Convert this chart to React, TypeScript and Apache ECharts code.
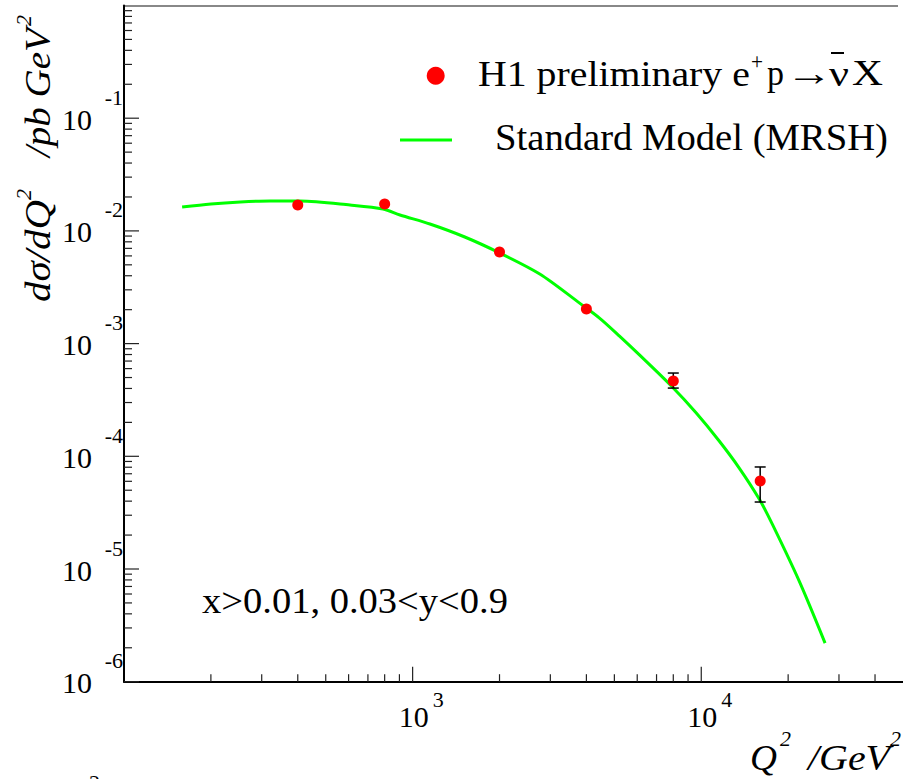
import React, { useEffect, useRef } from 'react';
import * as echarts from 'echarts';

const X_MIN = 100;
const X_MAX = 50000;
const Y_MIN = 1e-6;
const Y_MAX = 1;

// Standard Model (MRSH) curve
const smQ2 = [159, 200, 253, 321, 408, 607, 790, 904, 1148, 1516, 2003, 2757, 3789, 4441, 5210, 6107, 7940, 9610, 11540, 13540, 15880, 17610, 21830, 26850];
const smXsec = [0.01629, 0.01733, 0.01805, 0.01845, 0.01842, 0.01697, 0.01564, 0.01384, 0.01151, 0.008829, 0.00637, 0.004145, 0.002288, 0.001684, 0.001165, 7.93e-4, 4.12e-4, 2.42e-4, 1.367e-4, 7.87e-5, 4.18e-5, 2.51e-5, 7.83e-6, 2.2e-6];

// H1 preliminary data
const dataQ2 = [400, 800, 2000, 4000, 8000, 16000];
const dataXsec = [0.017, 0.0173, 0.0065, 0.00203, 4.66e-4, 6.04e-5];
const errLow: (number | null)[] = [null, null, null, null, 4.03e-4, 3.93e-5];
const errHigh: (number | null)[] = [null, null, null, null, 5.48e-4, 8.04e-5];

// axis ticks / labels
const yLabelExp = [-6, -5, -4, -3, -2, -1];
const xLabelExp = [3, 4];
const minorMult = [2, 3, 4, 5, 6, 7, 8, 9];
const xMinorExtra = [20000, 30000, 40000];

const FAMILY = 'Liberation Serif';

function measure(text: string, size: number, italic: boolean): number {
  const c = document.createElement('canvas');
  const ctx = c.getContext('2d');
  if (!ctx) return 1;
  ctx.font = `${italic ? 'italic ' : ''}${size}px "${FAMILY}"`;
  return ctx.measureText(text).width || 1;
}

function tStyle(text: string, size: number, italic = false, align = 'left') {
  return {
    text,
    fontSize: size,
    fontFamily: FAMILY,
    fontStyle: italic ? 'italic' : 'normal',
    fontWeight: 'normal',
    fill: '#000',
    align,
    verticalAlign: 'middle',
  };
}

function fitText(text: string, left: number, baseline: number, size: number, targetW: number | null, italic = false) {
  const sx = targetW ? targetW / measure(text, size, italic) : 1;
  return {
    type: 'text',
    x: left,
    y: baseline - 0.3375 * size,
    scaleX: sx,
    style: tStyle(text, size, italic, 'left'),
  };
}

export default function App() {
  const ref = useRef<HTMLDivElement>(null);

  useEffect(() => {
    if (!ref.current) return;
    const chart = echarts.init(ref.current, undefined, { renderer: 'svg' });

    const yTicks: number[][] = [];
    yLabelExp.forEach((e) => {
      yTicks.push([X_MIN, Math.pow(10, e), 1]);
      minorMult.forEach((k) => yTicks.push([X_MIN, k * Math.pow(10, e), 0]));
    });
    const xTicks: number[][] = [];
    xLabelExp.forEach((e) => {
      xTicks.push([Math.pow(10, e), Y_MIN, 1]);
      minorMult.forEach((k) => xTicks.push([k * Math.pow(10, e - 1), Y_MIN, 0]));
    });
    xMinorExtra.forEach((v) => xTicks.push([v, Y_MIN, 0]));

    const errData: number[][] = [];
    dataQ2.forEach((q, i) => {
      const lo = errLow[i];
      const hi = errHigh[i];
      if (lo != null && hi != null) errData.push([q, lo, hi]);
    });

    const tickStyle = { stroke: '#222', lineWidth: 1.2 };

    const option: any = {
      animation: false,
      backgroundColor: '#fff',
      grid: { left: 124, right: -2, top: 5.5, bottom: 97.3, containLabel: false },
      xAxis: {
        type: 'log',
        logBase: 10,
        min: X_MIN,
        max: X_MAX,
        axisLine: { show: true, lineStyle: { color: '#000', width: 2 } },
        axisTick: { show: false },
        axisLabel: { show: false },
        splitLine: { show: false },
      },
      yAxis: {
        type: 'log',
        logBase: 10,
        min: Y_MIN,
        max: Y_MAX,
        axisLine: { show: true, lineStyle: { color: '#000', width: 2 } },
        axisTick: { show: false },
        axisLabel: { show: false },
        splitLine: { show: false },
      },
      series: [
        {
          type: 'custom',
          name: 'yticks',
          silent: true,
          z: 3,
          data: yTicks,
          renderItem: (_p: any, api: any) => {
            const pt = api.coord([api.value(0), api.value(1)]);
            const len = api.value(2) ? 15 : 8;
            return { type: 'line', shape: { x1: pt[0], y1: pt[1], x2: pt[0] + len, y2: pt[1] }, style: tickStyle };
          },
        },
        {
          type: 'custom',
          name: 'xticks',
          silent: true,
          z: 3,
          data: xTicks,
          renderItem: (_p: any, api: any) => {
            const pt = api.coord([api.value(0), api.value(1)]);
            const len = api.value(2) ? 15 : 7.5;
            return { type: 'line', shape: { x1: pt[0], y1: pt[1], x2: pt[0], y2: pt[1] - len }, style: tickStyle };
          },
        },
        {
          type: 'custom',
          name: 'ylabels',
          silent: true,
          z: 3,
          data: yLabelExp.map((e) => [X_MIN, Math.pow(10, e), e]),
          renderItem: (_p: any, api: any) => {
            const pt = api.coord([api.value(0), api.value(1)]);
            return {
              type: 'group',
              children: [
                { type: 'text', x: pt[0] - 32, y: pt[1] + 1, style: tStyle('10', 30, false, 'right') },
                { type: 'text', x: pt[0] - 1, y: pt[1] - 21, style: tStyle(String(api.value(2)), 22, false, 'right') },
              ],
            };
          },
        },
        {
          type: 'custom',
          name: 'xlabels',
          silent: true,
          z: 3,
          data: xLabelExp.map((e) => [Math.pow(10, e), Y_MIN, e]),
          renderItem: (_p: any, api: any) => {
            const pt = api.coord([api.value(0), api.value(1)]);
            return {
              type: 'group',
              children: [
                { type: 'text', x: pt[0] + 1, y: pt[1] + 35, style: tStyle('10', 30, false, 'center') },
                { type: 'text', x: pt[0] + 20, y: pt[1] + 18, style: tStyle(String(api.value(2)), 22, false, 'left') },
              ],
            };
          },
        },
        {
          type: 'line',
          name: 'Standard Model (MRSH)',
          data: smQ2.map((q, i) => [q, smXsec[i]]),
          smooth: 0.3,
          showSymbol: false,
          symbol: 'none',
          z: 2,
          lineStyle: { color: '#00ff00', width: 3 },
        },
        {
          type: 'custom',
          name: 'errors',
          silent: true,
          z: 4,
          data: errData,
          renderItem: (_p: any, api: any) => {
            const x = api.value(0);
            const lo = api.coord([x, api.value(1)]);
            const hi = api.coord([x, api.value(2)]);
            const w = 5.5;
            const st = { stroke: '#000', lineWidth: 1.5 };
            return {
              type: 'group',
              children: [
                { type: 'line', shape: { x1: lo[0], y1: lo[1], x2: hi[0], y2: hi[1] }, style: st },
                { type: 'line', shape: { x1: lo[0] - w, y1: lo[1], x2: lo[0] + w, y2: lo[1] }, style: st },
                { type: 'line', shape: { x1: hi[0] - w, y1: hi[1], x2: hi[0] + w, y2: hi[1] }, style: st },
              ],
            };
          },
        },
        {
          type: 'scatter',
          name: 'H1 preliminary',
          data: dataQ2.map((q, i) => [q, dataXsec[i]]),
          symbol: 'circle',
          symbolSize: 11,
          z: 5,
          itemStyle: { color: '#ff0000', opacity: 1 },
        },
      ],
      graphic: [
        // top frame line
        { type: 'line', shape: { x1: 124, y1: 6, x2: 898, y2: 6 }, style: { stroke: '#888', lineWidth: 2 } },
        // legend
        { type: 'circle', shape: { cx: 435.7, cy: 75.7, r: 9 }, style: { fill: '#ff0000' } },
        fitText('H1 preliminary e', 478, 85.7, 36, 272),
        fitText('+', 751, 69, 24, 12),
        fitText('p', 767, 85.7, 36, 17),
        { type: 'text', x: 786, y: 73, scaleX: 1.3, style: tStyle('\u2192', 36, false, 'left') },
        fitText('\u03bd', 829, 85.7, 36, 20),
        { type: 'line', shape: { x1: 831, y1: 53, x2: 844, y2: 53 }, style: { stroke: '#000', lineWidth: 2 } },
        fitText('X', 852, 85.7, 36, 31),
        { type: 'line', shape: { x1: 400, y1: 140, x2: 452, y2: 140 }, style: { stroke: '#00ff00', lineWidth: 3 } },
        fitText('Standard Model (MRSH)', 495, 150, 37, 393),
        // cuts text
        fitText('x>0.01, 0.03<y<0.9', 202, 613, 35, 306),
        // x-axis title
        fitText('Q', 750, 770, 35, 27, true),
        fitText('2', 780, 746, 22, null, true),
        fitText('/GeV', 808, 770, 35, 82, true),
        fitText('2', 890, 746, 22, null, true),
        // y-axis title (rotated)
        {
          type: 'group',
          x: 50,
          y: 302,
          rotation: Math.PI / 2,
          children: [
            fitText('d\u03c3/dQ', 0, 0, 35, 102, true),
            fitText('2', 102, -19, 22, null, true),
            fitText('/pb GeV', 145, 0, 35, 129, true),
            fitText('2', 276, -19, 22, null, true),
          ],
        },
        // cropped label at bottom-left (cut by the picture edge in the reference too)
        { type: 'text', x: 94.5, y: 782.6, style: tStyle('2', 22, false, 'center') },
      ],
    };

    chart.setOption(option);
    return () => {
      chart.dispose();
    };
  }, []);

  return (
    <div
      ref={ref}
      style={{ position: 'fixed', left: 0, top: 0, width: 903, height: 779, background: '#fff' }}
    />
  );
}
